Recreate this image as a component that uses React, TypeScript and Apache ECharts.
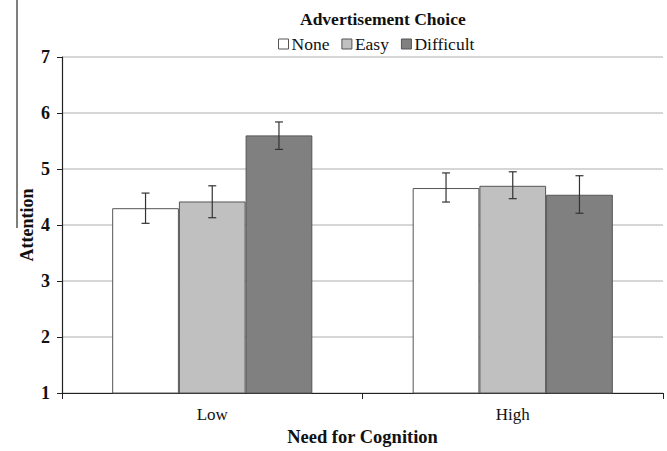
import React, { useEffect, useRef } from "react";
import * as echarts from "echarts";

const categories = ["Low", "High"];
const seriesNames = ["None", "Easy", "Difficult"];
const noneValues = [4.3, 4.66];
const easyValues = [4.42, 4.7];
const difficultValues = [5.6, 4.54];
const noneErrLow = [4.03, 4.41];
const noneErrHigh = [4.57, 4.93];
const easyErrLow = [4.13, 4.47];
const easyErrHigh = [4.7, 4.95];
const difficultErrLow = [5.35, 4.21];
const difficultErrHigh = [5.84, 4.88];
const yTicks = [1, 2, 3, 4, 5, 6, 7];

const colors = ["#ffffff", "#c0c0c0", "#808080"];
const SERIF = "'Liberation Serif', 'DejaVu Serif', serif";
const CAT_GAP = 0.334;

export default function App() {
  const ref = useRef<HTMLDivElement>(null);
  useEffect(() => {
    if (!ref.current) return;
    const chart = echarts.init(ref.current, null, { renderer: "svg" });
    const values = [noneValues, easyValues, difficultValues];
    const errs = [
      [noneErrLow, noneErrHigh],
      [easyErrLow, easyErrHigh],
      [difficultErrLow, difficultErrHigh],
    ];
    const barSeries = seriesNames.map((name, i) => ({
      name,
      type: "bar",
      data: values[i],
      barGap: "0%",
      barCategoryGap: CAT_GAP * 100 + "%",
      itemStyle: { color: colors[i], borderColor: "#555", borderWidth: 1 },
      emphasis: { disabled: true },
    }));
    const errSeries = seriesNames.map((name, i) => ({
      name: name + " err",
      type: "custom",
      data: categories.map((_, c) => [c, errs[i][0][c], errs[i][1][c]]),
      z: 10,
      renderItem: (params: any, api: any) => {
        const c = api.value(0);
        const lo = api.coord([c, api.value(1)]);
        const hi = api.coord([c, api.value(2)]);
        const band = api.size([1, 0])[0];
        const bw = (band * (1 - CAT_GAP)) / 3;
        const x = lo[0] + (i - 1) * bw;
        const cap = 4;
        const style = { stroke: "#333", lineWidth: 1.2 };
        return {
          type: "group",
          children: [
            { type: "line", shape: { x1: x, y1: lo[1], x2: x, y2: hi[1] }, style },
            { type: "line", shape: { x1: x - cap, y1: lo[1], x2: x + cap, y2: lo[1] }, style },
            { type: "line", shape: { x1: x - cap, y1: hi[1], x2: x + cap, y2: hi[1] }, style },
          ],
        };
      },
    }));
    chart.setOption({
      animation: false,
      textStyle: { fontFamily: SERIF },
      title: {
        text: "Advertisement Choice",
        left: 295,
        top: 5,
        textStyle: { fontFamily: SERIF, fontSize: 17.5, fontWeight: "bold", color: "#111" },
      },
      legend: {
        data: seriesNames,
        left: 273,
        top: 30,
        icon: "rect",
        itemWidth: 10,
        itemHeight: 10,
        itemGap: 12,
        selectedMode: false,
        itemStyle: { borderColor: "#555", borderWidth: 1 },
        textStyle: { fontFamily: SERIF, fontSize: 17.5, color: "#111", padding: [0, 0, 0, -2] },
      },
      grid: { left: 62, right: 4, top: 57, bottom: 55 },
      xAxis: {
        type: "category",
        data: categories,
        name: "Need for Cognition",
        nameLocation: "middle",
        nameGap: 34,
        nameMoveOverlap: false,
        nameTextStyle: { fontFamily: SERIF, fontSize: 18.5, fontWeight: "bold", color: "#111" },
        axisLine: { lineStyle: { color: "#222", width: 1.2 } },
        axisTick: { show: true, length: 6, lineStyle: { color: "#222" } },
        axisLabel: { fontFamily: SERIF, fontSize: 17, color: "#111", margin: 13 },
        splitLine: { show: false },
      },
      yAxis: {
        type: "value",
        min: 1,
        max: 7,
        interval: 1,
        name: "Attention",
        nameLocation: "middle",
        nameGap: 26,
        nameMoveOverlap: false,
        nameTextStyle: { fontFamily: SERIF, fontSize: 18, fontWeight: "bold", color: "#111" },
        axisLine: { show: true, lineStyle: { color: "#222", width: 1.2 } },
        axisTick: { show: true, length: 5, lineStyle: { color: "#222" } },
        axisLabel: {
          fontFamily: SERIF,
          fontSize: 18,
          fontWeight: "bold",
          color: "#111",
          margin: 12,
          formatter: (v: number) => (yTicks.includes(v) ? String(v) : ""),
        },
        splitLine: { lineStyle: { color: "#c8c8c8", width: 1.5 } },
      },
      graphic: [
        {
          type: "line",
          shape: { x1: 17, y1: 0, x2: 17, y2: 228 },
          style: { stroke: "#555", lineWidth: 1.5 },
          silent: true,
        },
      ],
      series: [...barSeries, ...errSeries],
    });
    return () => chart.dispose();
  }, []);
  return (
    <div
      ref={ref}
      style={{ position: "fixed", left: 0, top: 0, width: 667, height: 451, background: "#fff" }}
    />
  );
}
